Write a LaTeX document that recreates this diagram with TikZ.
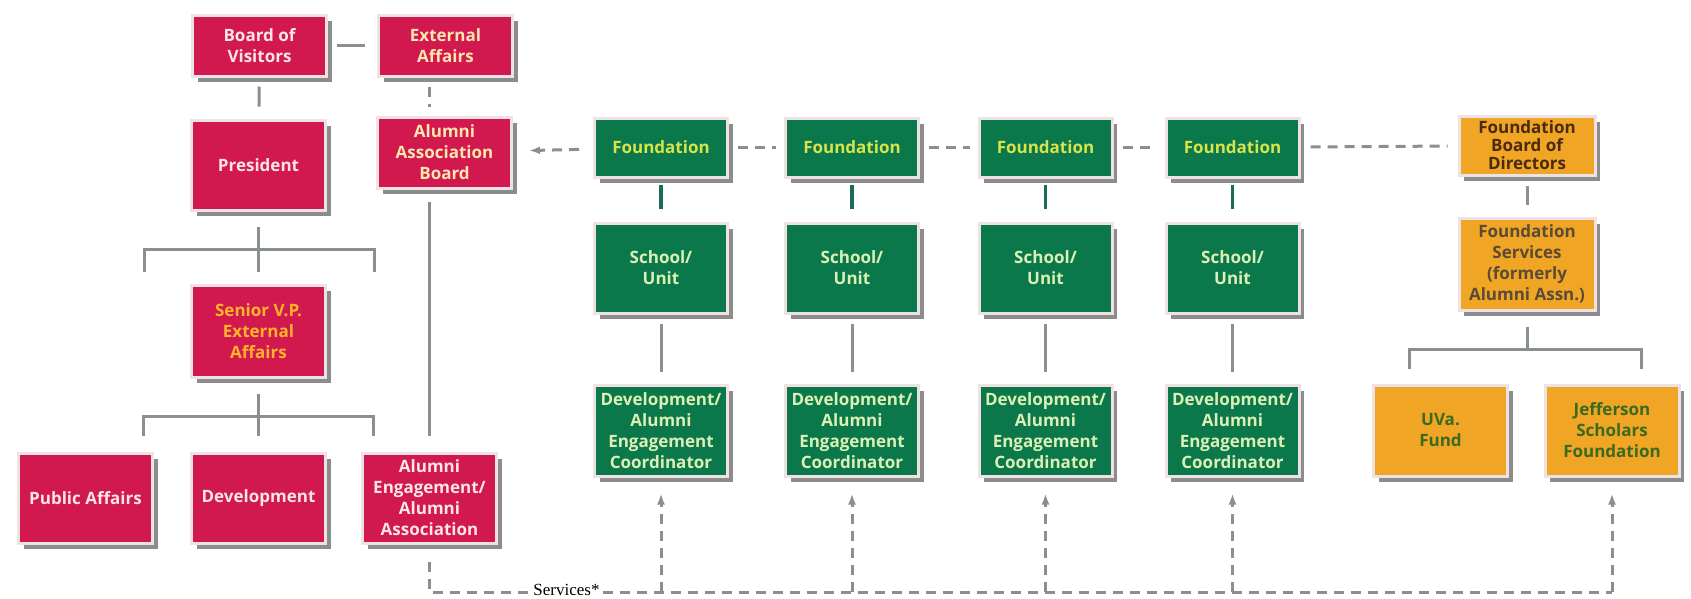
\documentclass[tikz,border=0pt]{standalone}
\usepackage{fontspec}
\setmainfont{Liberation Serif}
\setsansfont{Open Sans}
\usepackage{tikz}
\usetikzlibrary{arrows.meta,positioning,shadows}

\definecolor{uvared}{HTML}{D2194F}
\definecolor{uvagreen}{HTML}{0A784B}
\definecolor{uvaorange}{HTML}{F0A524}
\definecolor{rim}{HTML}{EFE2E5}
\definecolor{shade}{HTML}{8C8C8C}
\definecolor{linegray}{HTML}{8A8F90}
\definecolor{linkgreen}{HTML}{1C6B5A}
\definecolor{paletext}{HTML}{FBE4EA}
\definecolor{paleyellow}{HTML}{FCE7AE}
\definecolor{vporange}{HTML}{FFB42A}
\definecolor{fndtext}{HTML}{D8E44A}
\definecolor{schtext}{HTML}{DCF0B6}
\definecolor{bodtext}{HTML}{4A2A10}
\definecolor{fstext}{HTML}{5A4A36}
\definecolor{fundtext}{HTML}{3B6A1E}

\begin{document}
\begin{tikzpicture}[x=1pt,y=-1pt,
    box/.style={rectangle,draw=rim,line width=3pt,align=center,inner xsep=0pt,inner ysep=2pt,
        font=\sffamily\bfseries\fontsize{17}{21}\selectfont,minimum width=134pt,
        drop shadow={shadow xshift=5pt,shadow yshift=-6pt,fill=shade,opacity=1}},
    redbox/.style={box,fill=uvared,text=paletext},
    greenbox/.style={box,fill=uvagreen,text=schtext,minimum width=133pt},
    orangebox/.style={box,fill=uvaorange,text=fundtext},
    plain/.style={draw=linegray,line width=3pt},
    link/.style={plain,shorten <=9pt,shorten >=12pt},
    glink/.style={draw=linkgreen,line width=3.5pt,shorten <=6pt,shorten >=13pt},
    dlink/.style={plain,dash pattern=on 10pt off 7pt},
    tip/.style={-{Latex[length=11pt,width=8pt]}}]
  \useasboundingbox (0,0) rectangle (1691,598);

  % university side
  \node[redbox,minimum height=61pt] (bov) at (259.5,45.5) {Board of\\Visitors};
  \node[redbox,text=paleyellow,minimum height=61pt] (ea) at (445.5,45.5) {External\\Affairs};
  \node[redbox,minimum height=90pt] (pres) at (258.5,165) {President};
  \node[redbox,text=paleyellow,minimum height=71pt] (aab) at (444.5,152.5) {Alumni\\Association\\Board};
  \node[redbox,text=vporange,minimum height=92pt] (svp) at (258.5,331) {Senior V.P.\\External\\Affairs};
  \node[redbox,minimum height=90pt] (pa) at (85.5,498) {Public Affairs};
  \node[redbox,minimum height=90pt] (dev) at (258.5,498) {Development};
  \node[redbox,minimum height=90pt] (aeaa) at (429.5,498) {Alumni\\Engagement/\\Alumni\\Association};

  \draw[link] (bov) -- (ea);
  \draw[link] (bov) -- (pres);
  \draw[dlink,shorten <=9pt,shorten >=9pt] (aeaa.north |- ea.south) -- (aeaa.north |- aab.north);
  \draw[plain] ([yshift=-15pt]pres.south) -- ([yshift=12pt]svp.north);
  \draw[plain] ([xshift=-114.5pt,yshift=12pt]svp.north) |- ([yshift=-38pt]pres.south)
      -| ([xshift=115.5pt,yshift=12pt]svp.north);
  \draw[plain] ([yshift=-15pt]svp.south) -- ([yshift=16pt]dev.north);
  \draw[plain] ([xshift=57.5pt,yshift=16pt]pa.north) |- ([yshift=-38pt]svp.south)
      -| ([xshift=-56.5pt,yshift=16pt]aeaa.north);
  \draw[plain] (aeaa.north |- aab.south) ++(0,12) -- ([yshift=16pt]aeaa.north);

  % schools and foundations
  \foreach \i/\x in {1/661,2/852,3/1045.5,4/1232.5}{
    \node[greenbox,text=fndtext,minimum height=59pt] (f\i) at (\x,147.5) {Foundation};
    \node[greenbox,minimum height=90pt] (s\i) at (\x,268) {School/\\Unit};
    \node[greenbox,minimum height=91pt] (c\i) at (\x,430.5) {Development/\\Alumni\\Engagement\\Coordinator};
    \draw[glink] (f\i) -- (s\i);
    \draw[link] (s\i) -- (c\i);
  }
  \draw[dlink,tip,shorten <=14pt,shorten >=16pt] (f1) -- (aab);
  \draw[dlink,shorten <=9pt,shorten >=8pt] (f1) -- (f2);
  \draw[dlink,shorten <=9pt,shorten >=8pt] (f2) -- (f3);
  \draw[dlink,shorten <=9pt,shorten >=8pt] (f3) -- (f4);

  % foundation side
  \node[orangebox,text=bodtext,font=\sffamily\bfseries\fontsize{17}{18}\selectfont,
        minimum width=136pt,minimum height=59pt] (fbod) at (1527,145.5) {Foundation\\Board of\\Directors};
  \node[orangebox,text=fstext,minimum width=136pt,minimum height=92pt] (fs) at (1527,264)
        {Foundation\\Services\\(formerly\\Alumni Assn.)};
  \node[orangebox,minimum height=91pt] (uva) at (1440.5,430.5) {UVa.\\Fund};
  \node[orangebox,minimum height=91pt] (jsf) at (1612,430.5) {Jefferson\\Scholars\\Foundation};

  \draw[dlink,shorten <=10pt,shorten >=10pt] (f4) -- (fbod);
  \draw[link] (fbod) -- (fs);
  \draw[plain] ([yshift=-15pt]fs.south) -- ([yshift=-38pt]fs.south);
  \draw[plain] ([xshift=-31.5pt,yshift=15pt]uva.north) |- ([yshift=-38pt]fs.south)
      -| ([xshift=29pt,yshift=15pt]jsf.north);

  % services line
  \coordinate (base) at (429.5,592);
  \draw[dlink] ([yshift=-17pt]aeaa.south) -- (base) -- (base -| jsf.south);
  \foreach \n in {c1,c2,c3,c4,jsf}
    \draw[dlink,tip] (base -| \n.south) -- ([yshift=-16pt]\n.south);
  \node[fill=white,inner xsep=3pt,inner ysep=1pt,anchor=base,
        font=\rmfamily\fontsize{17}{17}\selectfont] (svc) at ([xshift=137pt,yshift=-3pt]base) {Services*};
\end{tikzpicture}
\end{document}
